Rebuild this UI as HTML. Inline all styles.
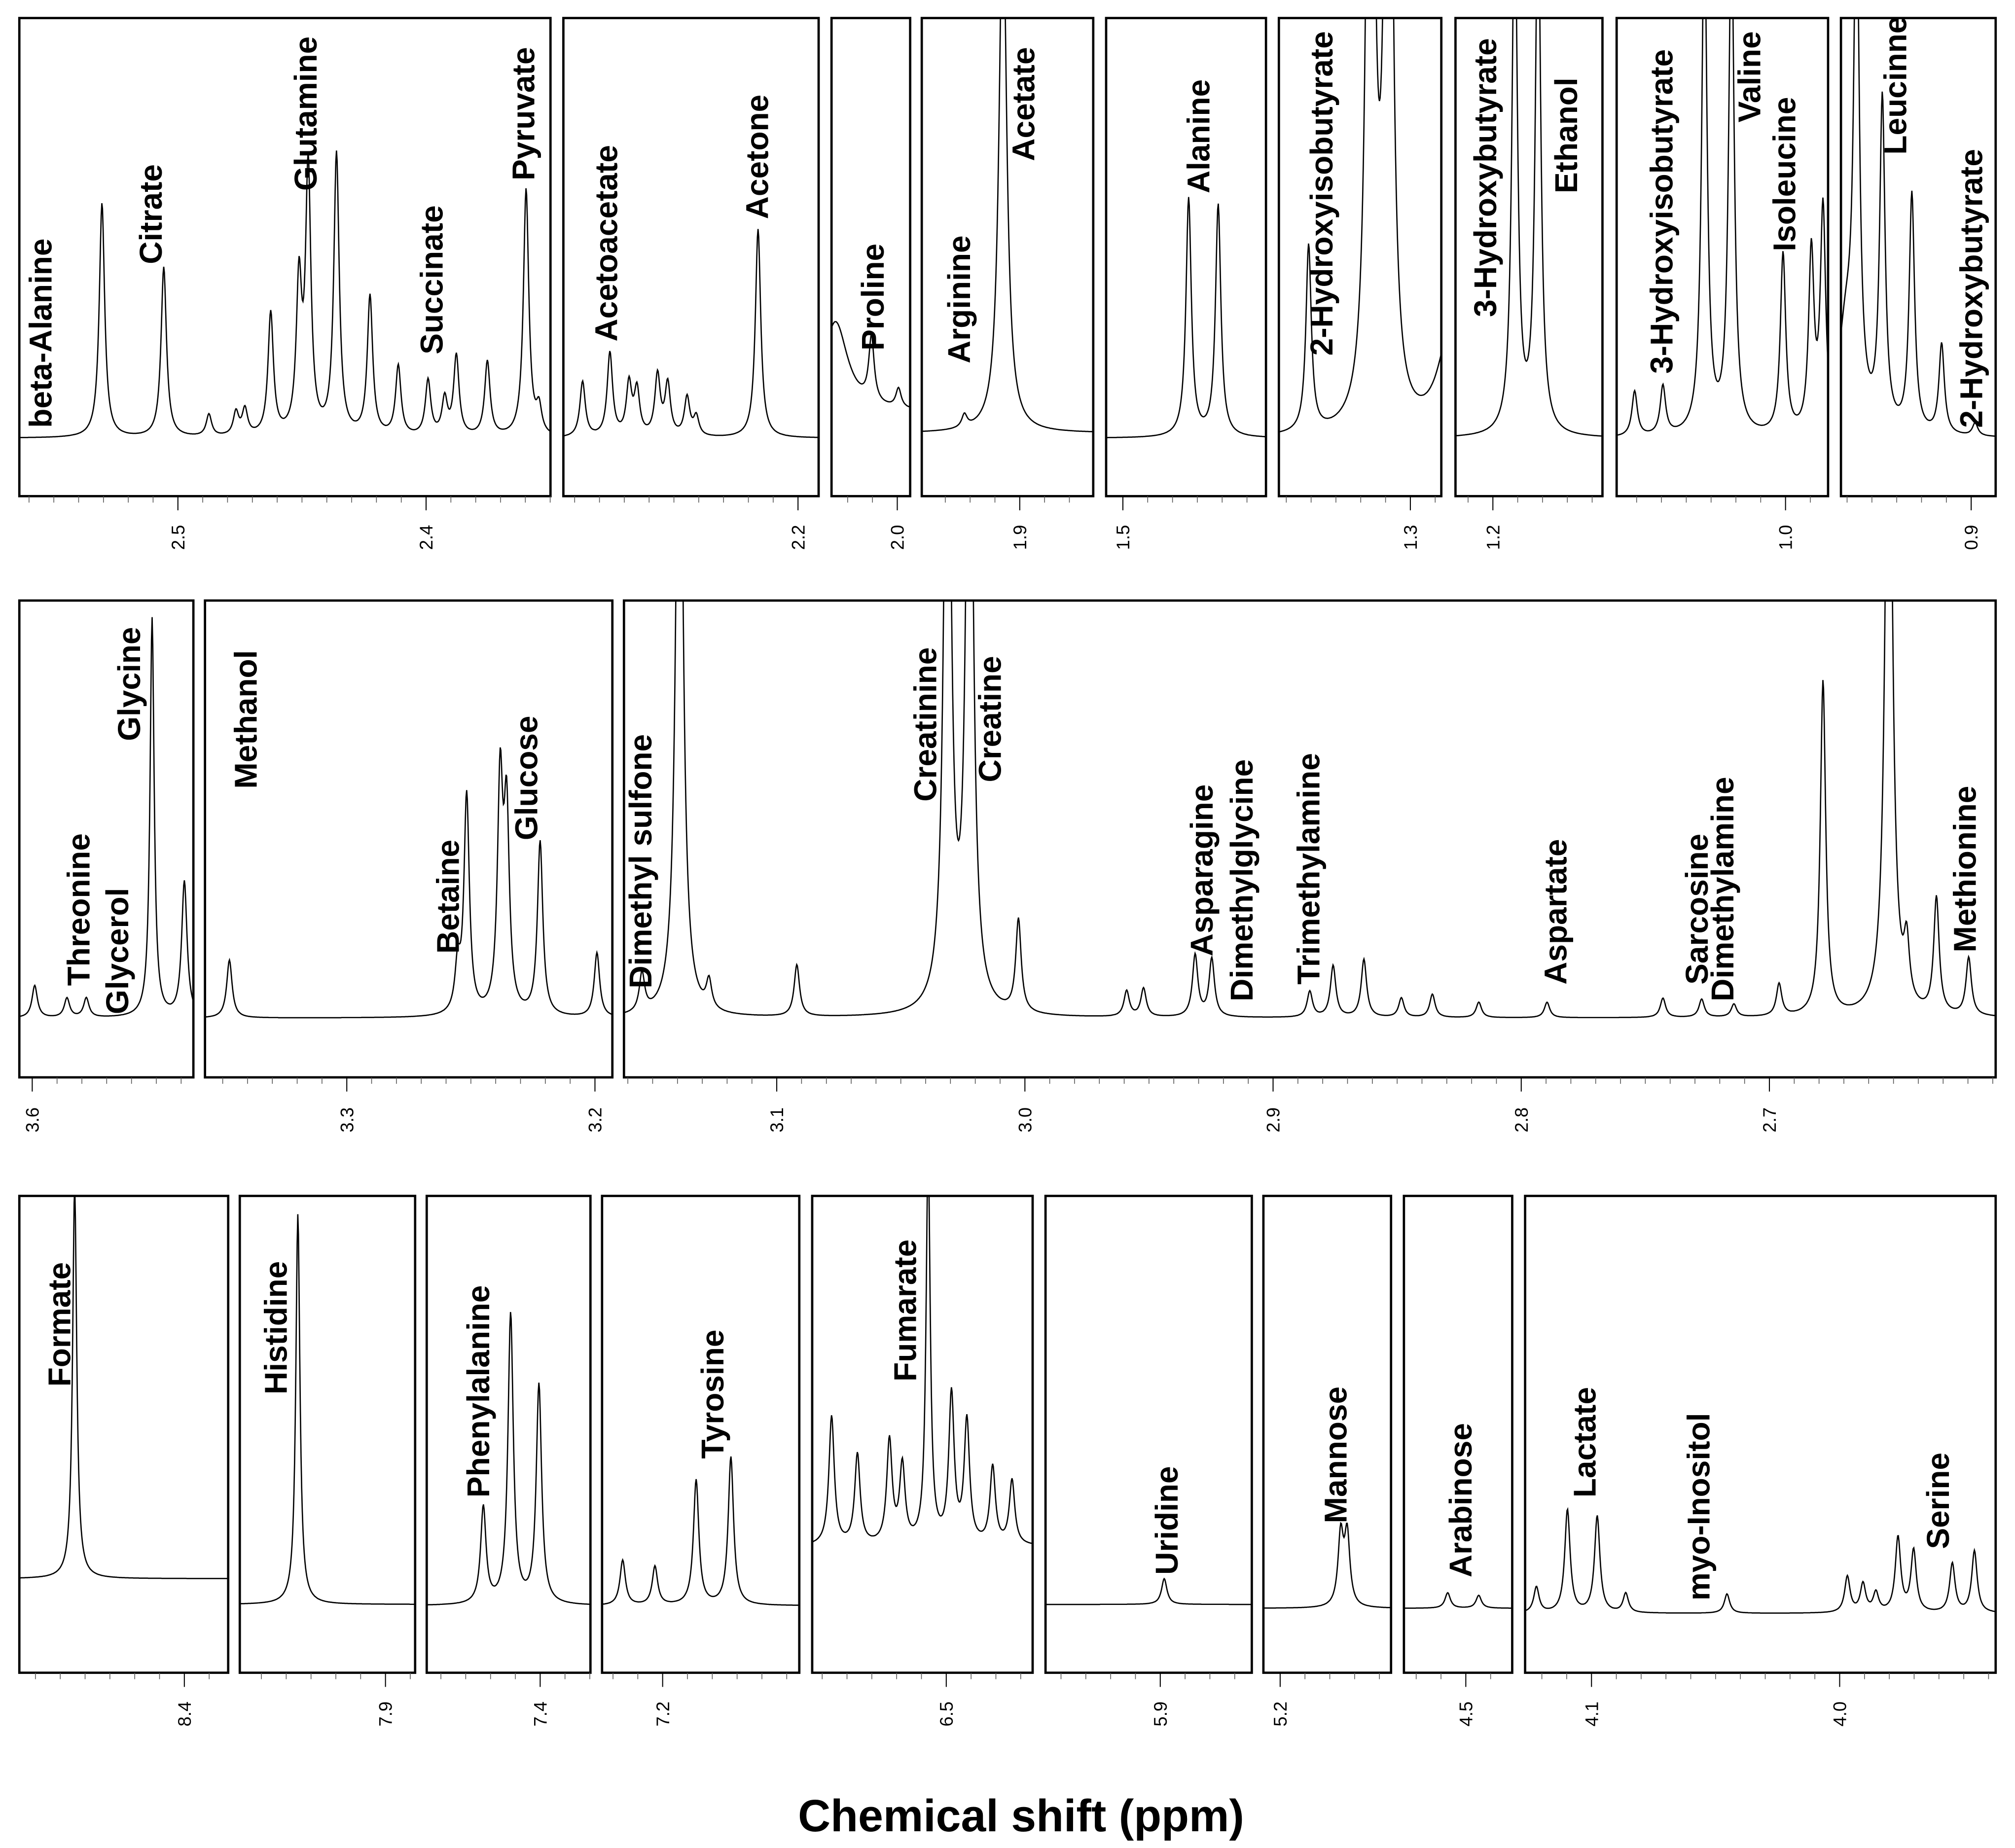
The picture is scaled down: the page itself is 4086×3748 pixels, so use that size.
<!DOCTYPE html>
<html><head><meta charset="utf-8">
<style>
html,body{margin:0;padding:0;background:#fff;}
svg{display:block;}
text{font-family:"Liberation Sans",Arial,sans-serif;fill:#000;}
.lab{font-weight:bold;font-size:24.5px;}
.tick{font-size:14px;}
</style></head>
<body>
<svg id="chart" xmlns="http://www.w3.org/2000/svg" width="4086" height="3748" viewBox="0 0 1563 1434" preserveAspectRatio="none">
<text x="792" y="1421" text-anchor="middle" font-size="35" font-weight="bold">Chemical shift (ppm)</text>
</svg>
<script>
// ---- data: peaks [ppm, height(px above baseline), halfwidth ppm optional]
const peaksR1P1=[[2.5306,182],[2.5057,132],[2.4875,17],[2.4766,18],[2.473,20],[2.4626,95],[2.4512,115],[2.4475,205],[2.4361,218],[2.4226,108],[2.4112,54],[2.3992,43],[2.3925,28],[2.3878,62],[2.3753,58],[2.3597,192],[2.3545,20]];
const peaksR1P2=[[2.2868,43],[2.2758,65],[2.2681,40],[2.2649,35],[2.2566,47],[2.2525,40],[2.2447,30],[2.241,15],[2.2161,162]];
const peaksR1P3=[[2.0249,70,0.006],[2.0104,50],[1.9995,15]];
const peaksR1P4=[[1.9223,10],[1.9068,420,0.0018]];
const peaksR1P5=[[1.4735,185],[1.4616,180]];
const peaksR1P6=[[1.341,145],[1.3161,800,0.0016],[1.3088,800,0.0016],[1.2839,80,0.006]];
const peaksR1P7=[[1.1912,420],[1.1818,420]];
const peaksR1P8=[[1.0608,35],[1.0494,38],[1.0327,400],[1.0218,400],[1.001,140],[0.9896,140],[0.9849,175]];
const peaksR1P9=[[0.9504,80,0.004],[0.9462,400],[0.9358,255],[0.9239,185],[0.9119,70],[0.8984,10]];
const peaksR2P1=[[3.599,25],[3.586,15],[3.5782,15],[3.5517,310,0.001],[3.5387,105]];
const peaksR2P2=[[3.3473,45],[3.2553,35],[3.2517,170],[3.2382,177],[3.2356,150],[3.2221,135],[3.1992,50]];
const peaksR2P3=[[3.1543,30],[3.1392,600,0.0016],[3.1273,22],[3.0919,40],[3.0312,600,0.0016],[3.0223,600,0.0016],[3.0026,72],[2.959,20],[2.9522,22],[2.9314,48],[2.9247,45],[2.8852,20],[2.8758,40],[2.8634,45],[2.8483,15],[2.8358,18],[2.8171,12],[2.7896,12],[2.7429,15],[2.7273,14],[2.7143,10],[2.6961,25],[2.6784,260],[2.6519,600,0.0016],[2.6447,45],[2.6327,90],[2.6197,45]];
const peaksR3P1=[[8.4442,305,0.001]];
const peaksR3P2=[[7.9353,303,0.001]];
const peaksR3P3=[[7.4229,75],[7.4119,225],[7.4005,170]];
const peaksR3P4=[[7.2161,35],[7.2031,30],[7.1865,97],[7.1725,115]];
const peaksR3P5=[[6.5462,100],[6.5358,70],[6.5229,80],[6.5177,60],[6.5073,305,0.001],[6.4979,115],[6.4917,95],[6.4813,60],[6.4735,50]];
const peaksR3P6=[[5.8984,20]];
const peaksR3P7=[[5.1756,55],[5.173,55]];
const peaksR3P8=[[4.5073,12],[4.4948,10]];
const peaksR3P9=[[4.1222,20],[4.1097,80],[4.0977,75],[4.0862,15],[4.0454,15],[3.9969,28],[3.9906,22],[3.9854,15],[3.9765,58],[3.9702,48],[3.9546,38],[3.9457,48]];
// labels [text, ppm of label position, bottom y]
const labelsR1P1=[["beta-Alanine",2.5553,332],["Citrate",2.5109,205],["Glutamine",2.4485,148],["Succinate",2.3977,275],["Pyruvate",2.3608,140]];
const labelsR1P2=[["Acetoacetate",2.2773,265],["Acetone",2.2165,170]];
const labelsR1P3=[["Proline",2.0099,272]];
const labelsR1P4=[["Arginine",1.9244,282],["Acetate",1.8985,125]];
const labelsR1P5=[["Alanine",1.4695,150]];
const labelsR1P6=[["2-Hydroxyisobutyrate",1.3358,276]];
const labelsR1P7=[["3-Hydroxybutyrate",1.2031,246],["Ethanol",1.1705,150]];
const labelsR1P8=[["3-Hydroxyisobutyrate",1.0499,290],["Valine",1.0146,95],["Isoleucine",1.0005,195]];
const labelsR1P9=[["Leucinne",0.9306,120],["2-Hydroxybutyrate",0.9,332]];
const labelsR2P1=[["Threonine",3.5813,765],["Glycerol",3.5657,787],["Glycine",3.561,575]];
const labelsR2P2=[["Methanol",3.3407,612],["Betaine",3.2592,740],["Glucose",3.2277,652]];
const labelsR2P3=[["Dimethyl sulfone",3.1549,767],["Creatinine",3.0401,622],["Creatine",3.0141,607],["Asparagine",2.9288,742],["Dimethylglycine",2.9127,777],["Trimethylamine",2.8857,764],["Aspartate",2.7862,764],["Sarcosine",2.7293,764],["Dimethylamine",2.7189,777],["Methionine",2.6213,739]];
const labelsR3P1=[["Formate",8.4504,1076]];
const labelsR3P2=[["Histidine",7.9442,1082]];
const labelsR3P3=[["Phenylalanine",7.4250,1162]];
const labelsR3P4=[["Tyrosine",7.1799,1132]];
const labelsR3P5=[["Fumarate",6.5166,1072]];
const labelsR3P6=[["Uridine",5.8974,1222]];
const labelsR3P7=[["Mannose",5.1777,1182]];
const labelsR3P8=[["Arabinose",4.5021,1224]];
const labelsR3P9=[["Lactate",4.1028,1162],["myo-Inositol",4.0569,1242],["Serine",3.9604,1202]];

// ---- layout
const S=1925;
const rows=[{y0:14,y1:385,base:340,tickLabY:417},{y0:466,y1:836,base:790,tickLabY:869},{y0:928,y1:1298,base:1246,tickLabY:1330}];
const panels=[
 {r:0,x0:15,x1:427,rp:2.5,rx:138,pk:peaksR1P1,lb:labelsR1P1},
 {r:0,x0:437,x1:635,rp:2.2,rx:619,pk:peaksR1P2,lb:labelsR1P2},
 {r:0,x0:645,x1:706,rp:2.0,rx:696,pk:peaksR1P3,lb:labelsR1P3,base:320},
 {r:0,x0:715,x1:848,rp:1.9,rx:791,pk:peaksR1P4,lb:labelsR1P4,base:336},
 {r:0,x0:858,x1:982,rp:1.5,rx:871,pk:peaksR1P5,lb:labelsR1P5},
 {r:0,x0:992,x1:1118,rp:1.3,rx:1094,pk:peaksR1P6,lb:labelsR1P6},
 {r:0,x0:1129,x1:1243,rp:1.2,rx:1158,pk:peaksR1P7,lb:labelsR1P7},
 {r:0,x0:1254,x1:1418,rp:1.0,rx:1385,pk:peaksR1P8,lb:labelsR1P8},
 {r:0,x0:1428,x1:1548,rp:0.9,rx:1529,pk:peaksR1P9,lb:labelsR1P9},
 {r:1,x0:15,x1:150,rp:3.6,rx:25,pk:peaksR2P1,lb:labelsR2P1},
 {r:1,x0:159,x1:475,rp:3.3,rx:269,pk:peaksR2P2,lb:labelsR2P2},
 {r:1,x0:484,x1:1548,rp:3.0,rx:795,pk:peaksR2P3,lb:labelsR2P3},
 {r:2,x0:15,x1:177,rp:8.4,rx:143,pk:peaksR3P1,lb:labelsR3P1,base:1225},
 {r:2,x0:186,x1:322,rp:7.9,rx:299,pk:peaksR3P2,lb:labelsR3P2,base:1245},
 {r:2,x0:331,x1:458,rp:7.4,rx:419,pk:peaksR3P3,lb:labelsR3P3},
 {r:2,x0:467,x1:620,rp:7.2,rx:514,pk:peaksR3P4,lb:labelsR3P4},
 {r:2,x0:630,x1:801,rp:6.5,rx:734,pk:peaksR3P5,lb:labelsR3P5,base:1200},
 {r:2,x0:811,x1:971,rp:5.9,rx:900,pk:peaksR3P6,lb:labelsR3P6,base:1245},
 {r:2,x0:980,x1:1079,rp:5.2,rx:993,pk:peaksR3P7,lb:labelsR3P7,base:1248},
 {r:2,x0:1089,x1:1173,rp:4.5,rx:1137,pk:peaksR3P8,lb:labelsR3P8,base:1248},
 {r:2,x0:1183,x1:1548,rp:4.0,rx:1427,pk:peaksR3P9,lb:labelsR3P9,base:1252}
];
const NS='http://www.w3.org/2000/svg';
const svg=document.getElementById('chart');
const defs=document.createElementNS(NS,'defs');svg.appendChild(defs);
function mk(tag,attrs,parent){const e=document.createElementNS(NS,tag);for(const k in attrs)e.setAttribute(k,attrs[k]);(parent||svg).appendChild(e);return e;}

panels.forEach((p,i)=>{
  const row=rows[p.r];
  const xOf=ppm=>p.rx+(p.rp-ppm)*S;
  const ppmOf=x=>p.rp+(p.rx-x)/S;
  const base=p.base||row.base;
  const g=mk('g',{});
  
  
  const cp=mk('clipPath',{id:'cp'+i},defs);
  mk('rect',{x:p.x0,y:row.y0,width:p.x1-p.x0,height:row.y1-row.y0},cp);
  let d='';
  for(let x=p.x0;x<=p.x1;x+=0.5){
    const v=ppmOf(x);let y=0;
    p.pk.forEach(k=>{const w=k[2]||0.0013;const t=(v-k[0])/w;y+=k[1]/(1+t*t);});
    d+=(x===p.x0?'M':'L')+x.toFixed(1)+' '+(base-y).toFixed(1);
  }
  const path=mk('path',{d:d,fill:'none',stroke:'#000','stroke-width':1,'clip-path':'url(#cp'+i+')'},g);
  
  
  const box=mk('rect',{x:p.x0,y:row.y0,width:p.x1-p.x0,height:row.y1-row.y0,fill:'none',stroke:'#000','stroke-width':1.8},g);
  
  
  const hi=ppmOf(p.x0),lo=ppmOf(p.x1);
  for(let k=Math.ceil(lo*100);k<=Math.floor(hi*100);k++){
    const x=xOf(k/100);const major=(k%10===0);
    const t=mk('line',{x1:x,x2:x,y1:row.y1,y2:row.y1+(major?11:5),stroke:major?'#000':'#555','stroke-width':major?0.8:0.6},g);
    
    
    if(major){
      const tl=mk('text',{class:'tick',x:0,y:0,'text-anchor':'middle',transform:'translate('+(x+5)+','+row.tickLabY+') rotate(-90)'},g);
      
      
      tl.textContent=(k/100).toFixed(1);
    }
  }
  p.lb.forEach(l=>{
    const x=xOf(l[1])+8.5;
    const t=mk('text',{class:'lab',x:0,y:0,transform:'translate('+x.toFixed(1)+','+l[2]+') rotate(-90)'},g);
    
    
    t.textContent=l[0];
  });
});
</script>
</body></html>
